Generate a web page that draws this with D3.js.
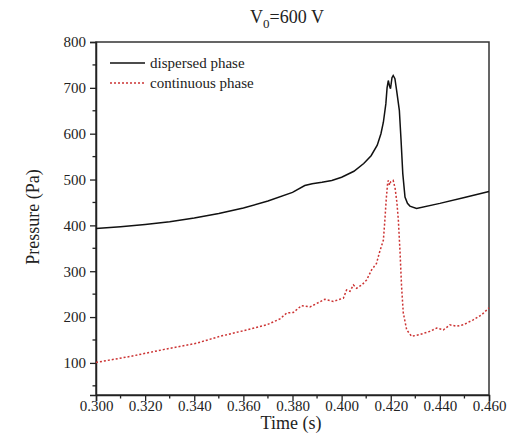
<!DOCTYPE html>
<html><head><meta charset="utf-8">
<script src="https://cdn.jsdelivr.net/npm/d3@7"></script>
<style>body{margin:0;background:#fff}svg{display:block}svg text{font-family:"Liberation Serif","Times New Roman",Times,serif !important}</style>
</head><body>
<script>
const dispersedT = [0.300,0.310,0.320,0.330,0.340,0.350,0.360,0.370,0.380,0.385,0.388,0.392,0.396,0.400,0.405,0.409,0.412,0.4145,0.416,0.417,0.418,0.4185,0.419,0.4195,0.4199,0.4205,0.421,0.4217,0.4224,0.4235,0.4242,0.4249,0.4258,0.4268,0.4278,0.4305,0.440,0.450,0.460];
const dispersedP = [393,397,402,408,416,426,438,453,472,487,491,494,498,505,518,535,552,575,600,625,665,700,716,704,698,722,727,720,694,651,585,513,462,448,442,437,448,461,474];
const continuousT = [0.300,0.3138,0.3274,0.3410,0.3505,0.3614,0.3695,0.3749,0.3777,0.3803,0.3837,0.3871,0.3932,0.3966,0.3993,0.4007,0.4020,0.4034,0.4048,0.4061,0.4082,0.4102,0.4122,0.4142,0.4153,0.4170,0.4176,0.4182,0.4187,0.419,0.4195,0.4200,0.421,0.4218,0.4225,0.4231,0.4238,0.4244,0.4251,0.4265,0.4285,0.4319,0.4360,0.4387,0.4414,0.4441,0.4468,0.4495,0.4536,0.4570,0.460];
const continuousP = [101,114,129,143,158,172,183,196,209,210,225,222,239,234,239,241,259,256,270,263,270,281,303,317,339,368,411,460,490,498,488,495,498,480,450,411,340,267,209,172,158,162,169,176,172,183,180,183,194,205,220];
const xTicks = [0.300,0.320,0.340,0.360,0.380,0.400,0.420,0.440,0.460];
const yTicks = [100,200,300,400,500,600,700,800];
const seriesNames = ["dispersed phase","continuous phase"];

const W=518,H=442;
const m={l:96,r:489,t:42,b:395};
const svg=d3.select("body").append("svg").attr("width",W).attr("height",H);
const x=d3.scaleLinear().domain([0.300,0.460]).range([m.l,m.r]);
const y=d3.scaleLinear().domain([30,800]).range([m.b,m.t]);
const font='"Liberation Serif","Times New Roman",Times,serif';
const txt="#222";

// frame
svg.append("rect").attr("x",m.l).attr("y",m.t).attr("width",m.r-m.l).attr("height",m.b-m.t)
  .attr("fill","none").attr("stroke","#333").attr("stroke-width",1.5);

// x axis
const xMinor=d3.range(0.31,0.46,0.02);
svg.append("g").selectAll("line").data(xMinor).join("line")
  .attr("x1",d=>x(d)).attr("x2",d=>x(d)).attr("y1",m.b).attr("y2",m.b+3.5).attr("stroke","#222").attr("stroke-width",1.3);
const xa=svg.append("g").attr("transform",`translate(0,${m.b})`)
  .call(d3.axisBottom(x).tickValues(xTicks).tickFormat(d3.format(".3f")).tickSize(6).tickPadding(2));
xa.select(".domain").attr("stroke","#222").attr("stroke-width",1.5);
xa.selectAll(".tick line").attr("stroke","#222").attr("stroke-width",1.3);
xa.selectAll("text").style("font-family",font).style("font-size","15px").attr("fill",txt).attr("dy","0.5em");

// y axis
const yMinor=d3.range(50,800,100);
svg.append("g").selectAll("line").data(yMinor).join("line")
  .attr("x1",m.l-3.5).attr("x2",m.l).attr("y1",d=>y(d)).attr("y2",d=>y(d)).attr("stroke","#222").attr("stroke-width",1.3);
const ya=svg.append("g").attr("transform",`translate(${m.l},0)`)
  .call(d3.axisLeft(y).tickValues(yTicks).tickSize(6).tickPadding(4));
ya.select(".domain").attr("stroke","#222").attr("stroke-width",1.5);
ya.selectAll(".tick line").attr("stroke","#222").attr("stroke-width",1.3);
ya.selectAll("text").style("font-family",font).style("font-size","15px").attr("fill",txt);

// lines
const line=d3.line().x(d=>x(d[0])).y(d=>y(d[1]));
svg.append("path").datum(d3.zip(continuousT,continuousP)).attr("d",line)
  .attr("fill","none").attr("stroke","#cc3333").attr("stroke-width",1.5).attr("stroke-dasharray","2,2");
svg.append("path").datum(d3.zip(dispersedT,dispersedP)).attr("d",line)
  .attr("fill","none").attr("stroke","#111").attr("stroke-width",1.5);

// legend
const lg=svg.append("g");
lg.append("line").attr("x1",110).attr("x2",145).attr("y1",63).attr("y2",63).attr("stroke","#111").attr("stroke-width",1.5);
lg.append("line").attr("x1",110).attr("x2",145).attr("y1",83).attr("y2",83).attr("stroke","#cc3333").attr("stroke-width",1.5).attr("stroke-dasharray","2,2");
lg.append("text").attr("x",150).attr("y",68).text(seriesNames[0]).style("font-family",font).style("font-size","15px").attr("fill",txt);
lg.append("text").attr("x",150).attr("y",88).text(seriesNames[1]).style("font-family",font).style("font-size","15px").attr("fill",txt);

// titles
const t=svg.append("text").attr("x",287).attr("y",23).attr("text-anchor","middle")
  .style("font-family",font).style("font-size","18px").attr("fill",txt);
t.append("tspan").text("V");
t.append("tspan").text("0").style("font-size","13px").attr("dy",5);
t.append("tspan").text("=600 V").attr("dy",-5);
svg.append("text").attr("x",291).attr("y",429).attr("text-anchor","middle")
  .style("font-family",font).style("font-size","18px").attr("fill",txt).text("Time (s)");
svg.append("text").attr("transform","translate(39,217) rotate(-90)").attr("text-anchor","middle")
  .style("font-family",font).style("font-size","18px").attr("fill",txt).text("Pressure (Pa)");
</script>
</body></html>
